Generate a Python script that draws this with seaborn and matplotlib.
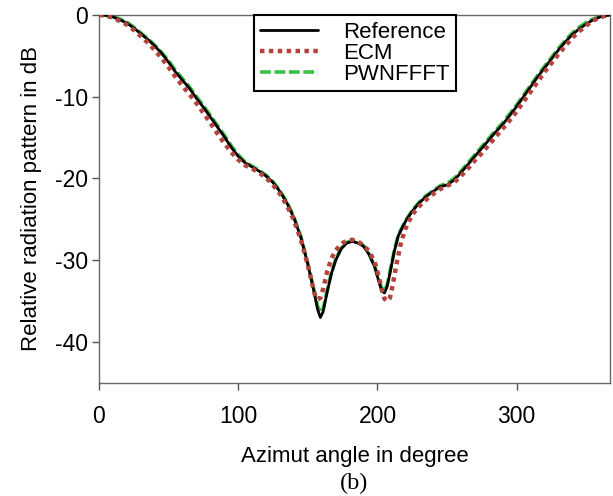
import matplotlib
matplotlib.use("Agg")
import matplotlib.pyplot as plt
import seaborn as sns
import pandas as pd

# Azimuth samples (degrees) and relative radiation pattern (dB)
ref_angle = [0, 5, 10, 15, 20, 25, 30, 35, 40, 45, 50, 55, 60, 65, 70, 75, 80, 85, 90, 95,
             100, 105, 110, 115, 120, 125, 130, 135, 140, 145, 150, 154, 157, 159, 161, 164,
             167, 170, 174, 178, 182, 186, 190, 194, 198, 201, 203, 205, 207, 209, 212, 215,
             220, 225, 230, 235, 240, 245, 250, 255, 260, 265, 270, 275, 280, 285, 290, 295,
             300, 305, 310, 315, 320, 325, 330, 335, 340, 345, 350, 355, 360, 365, 367]
ref_db = [0, -0.05, -0.25, -0.6, -1.0, -1.6, -2.3, -3.0, -3.8, -4.7, -5.8, -7.0, -8.0, -9.0,
          -10.2, -11.3, -12.5, -13.7, -14.9, -16.2, -17.3, -18.1, -18.6, -19.1, -19.7, -20.5,
          -21.6, -23.0, -24.8, -27.2, -30.5, -33.5, -36.0, -37.0, -36.3, -33.8, -31.6, -30.0,
          -28.6, -27.9, -27.7, -27.9, -28.3, -29.3, -30.8, -32.6, -33.7, -34.0, -33.2, -31.6,
          -29.0, -27.0, -25.3, -24.0, -23.0, -22.2, -21.6, -21.0, -20.8, -20.2, -19.3, -18.3,
          -17.3, -16.3, -15.3, -14.3, -13.4, -12.3, -11.2, -10.0, -8.8, -7.6, -6.5, -5.4,
          -4.3, -3.3, -2.4, -1.7, -1.1, -0.6, -0.25, -0.05, 0]

ecm_angle = [0, 5, 10, 15, 20, 25, 30, 35, 40, 45, 50, 55, 60, 65, 70, 75, 80, 85, 90, 95,
             100, 105, 110, 115, 120, 125, 130, 135, 140, 145, 150, 153, 155, 157, 159, 161,
             164, 167, 170, 174, 178, 182, 186, 190, 194, 198, 201, 203, 205, 207, 209, 211,
             214, 217, 220, 225, 230, 235, 240, 245, 250, 255, 260, 265, 270, 275, 280, 285,
             290, 295, 300, 305, 310, 315, 320, 325, 330, 335, 340, 345, 350, 355, 360, 365, 367]
ecm_db = [0, -0.1, -0.35, -0.75, -1.2, -1.85, -2.6, -3.4, -4.3, -5.3, -6.4, -7.6, -8.7, -9.7,
          -10.8, -12.0, -13.2, -14.5, -15.7, -16.8, -17.7, -18.4, -18.8, -19.3, -19.9, -20.8,
          -21.9, -23.3, -25.1, -27.5, -30.6, -32.8, -34.2, -34.8, -34.6, -33.5, -31.3, -29.8,
          -28.8, -28.0, -27.6, -27.5, -27.7, -28.2, -28.9, -30.2, -32.0, -33.5, -34.7, -35.0,
          -34.6, -33.0, -30.2, -27.8, -26.2, -24.4, -23.4, -22.6, -21.9, -21.3, -20.9, -20.5,
          -19.7, -18.8, -17.8, -16.9, -15.9, -14.9, -13.9, -12.9, -11.8, -10.6, -9.4, -8.2,
          -7.0, -5.9, -4.8, -3.8, -2.8, -2.0, -1.3, -0.7, -0.3, -0.05, 0]

pw_angle = ref_angle
pw_db = [0, -0.05, -0.2, -0.5, -0.9, -1.5, -2.2, -2.9, -3.7, -4.6, -5.6, -6.8, -7.8, -8.8,
         -10.0, -11.1, -12.3, -13.5, -14.7, -16.0, -17.1, -18.0, -18.5, -19.0, -19.6, -20.4,
         -21.5, -22.9, -24.7, -27.1, -30.4, -33.3, -35.6, -36.4, -35.9, -33.6, -31.5, -29.9,
         -28.5, -27.8, -27.6, -27.8, -28.2, -29.2, -30.7, -32.4, -33.4, -33.7, -33.0, -31.4,
         -28.9, -26.9, -25.2, -23.9, -22.9, -22.1, -21.5, -20.9, -20.6, -20.0, -19.1, -18.1,
         -17.1, -16.1, -15.1, -14.1, -13.2, -12.1, -11.0, -9.8, -8.6, -7.4, -6.3, -5.2,
         -4.1, -3.1, -2.2, -1.5, -0.9, -0.5, -0.2, -0.05, 0]

x_ticks = [0, 100, 200, 300]
y_ticks = [0, -10, -20, -30, -40]

sns.set_theme(style="white")
plt.rcParams["font.family"] = ["Liberation Sans", "DejaVu Sans"]
plt.rcParams["axes.unicode_minus"] = False
plt.rcParams["text.color"] = "black"
plt.rcParams["axes.labelcolor"] = "black"
plt.rcParams["xtick.color"] = "black"
plt.rcParams["ytick.color"] = "black"

fig = plt.figure(figsize=(6.13, 4.96), dpi=100)
ax = fig.add_axes([0.1615, 0.228, 0.8335, 0.742])

pw = pd.DataFrame({"angle": pw_angle, "db": pw_db})
ref = pd.DataFrame({"angle": ref_angle, "db": ref_db})
ecm = pd.DataFrame({"angle": ecm_angle, "db": ecm_db})

sns.lineplot(data=pw, x="angle", y="db", ax=ax, sort=False, color="#3cc048",
             linestyle=(0, (3, 1)), linewidth=2.6, label="PWNFFFT", zorder=2)
sns.lineplot(data=ref, x="angle", y="db", ax=ax, sort=False, color="black",
             linewidth=2.0, label="Reference", zorder=3)
sns.lineplot(data=ecm, x="angle", y="db", ax=ax, sort=False, color="#b4433c",
             linestyle=(0, (1, 1)), linewidth=3.2, label="ECM", zorder=4)

ax.set_xlim(0, 367)
ax.set_ylim(-45, 0)
ax.set_xticks(x_ticks)
ax.set_yticks(y_ticks)
ax.tick_params(axis="both", which="both", labelsize=16.5, length=5, width=1,
               color="#555555", labelcolor="black", direction="out",
               bottom=True, left=True)
ax.tick_params(axis="x", pad=11)
ax.tick_params(axis="y", pad=3)
for side in ["left", "bottom", "top", "right"]:
    ax.spines[side].set_color("#666666")
    ax.spines[side].set_linewidth(1.0)

ax.set_xlabel("Azimut angle in degree", fontsize=16, labelpad=13)
ax.set_ylabel("Relative radiation pattern in dB", fontsize=16, labelpad=9)

handles, labels = ax.get_legend_handles_labels()
order = [labels.index(n) for n in ["Reference", "ECM", "PWNFFFT"]]
leg = ax.legend([handles[i] for i in order], [labels[i] for i in order],
                loc="upper left", bbox_to_anchor=(0.303, 1.0), borderaxespad=0,
                fontsize=16, frameon=True, fancybox=False, framealpha=1,
                edgecolor="black", handlelength=2.6, handletextpad=1.1,
                labelspacing=0.0, borderpad=0.3)
leg.get_frame().set_linewidth(1.5)

fig.text(0.5 * (0.1615 + 0.995), 0.004, "(b)", ha="center", va="bottom",
         fontsize=17.5, family=["Liberation Serif", "DejaVu Serif"])

fig.savefig("out.png", dpi=100)
